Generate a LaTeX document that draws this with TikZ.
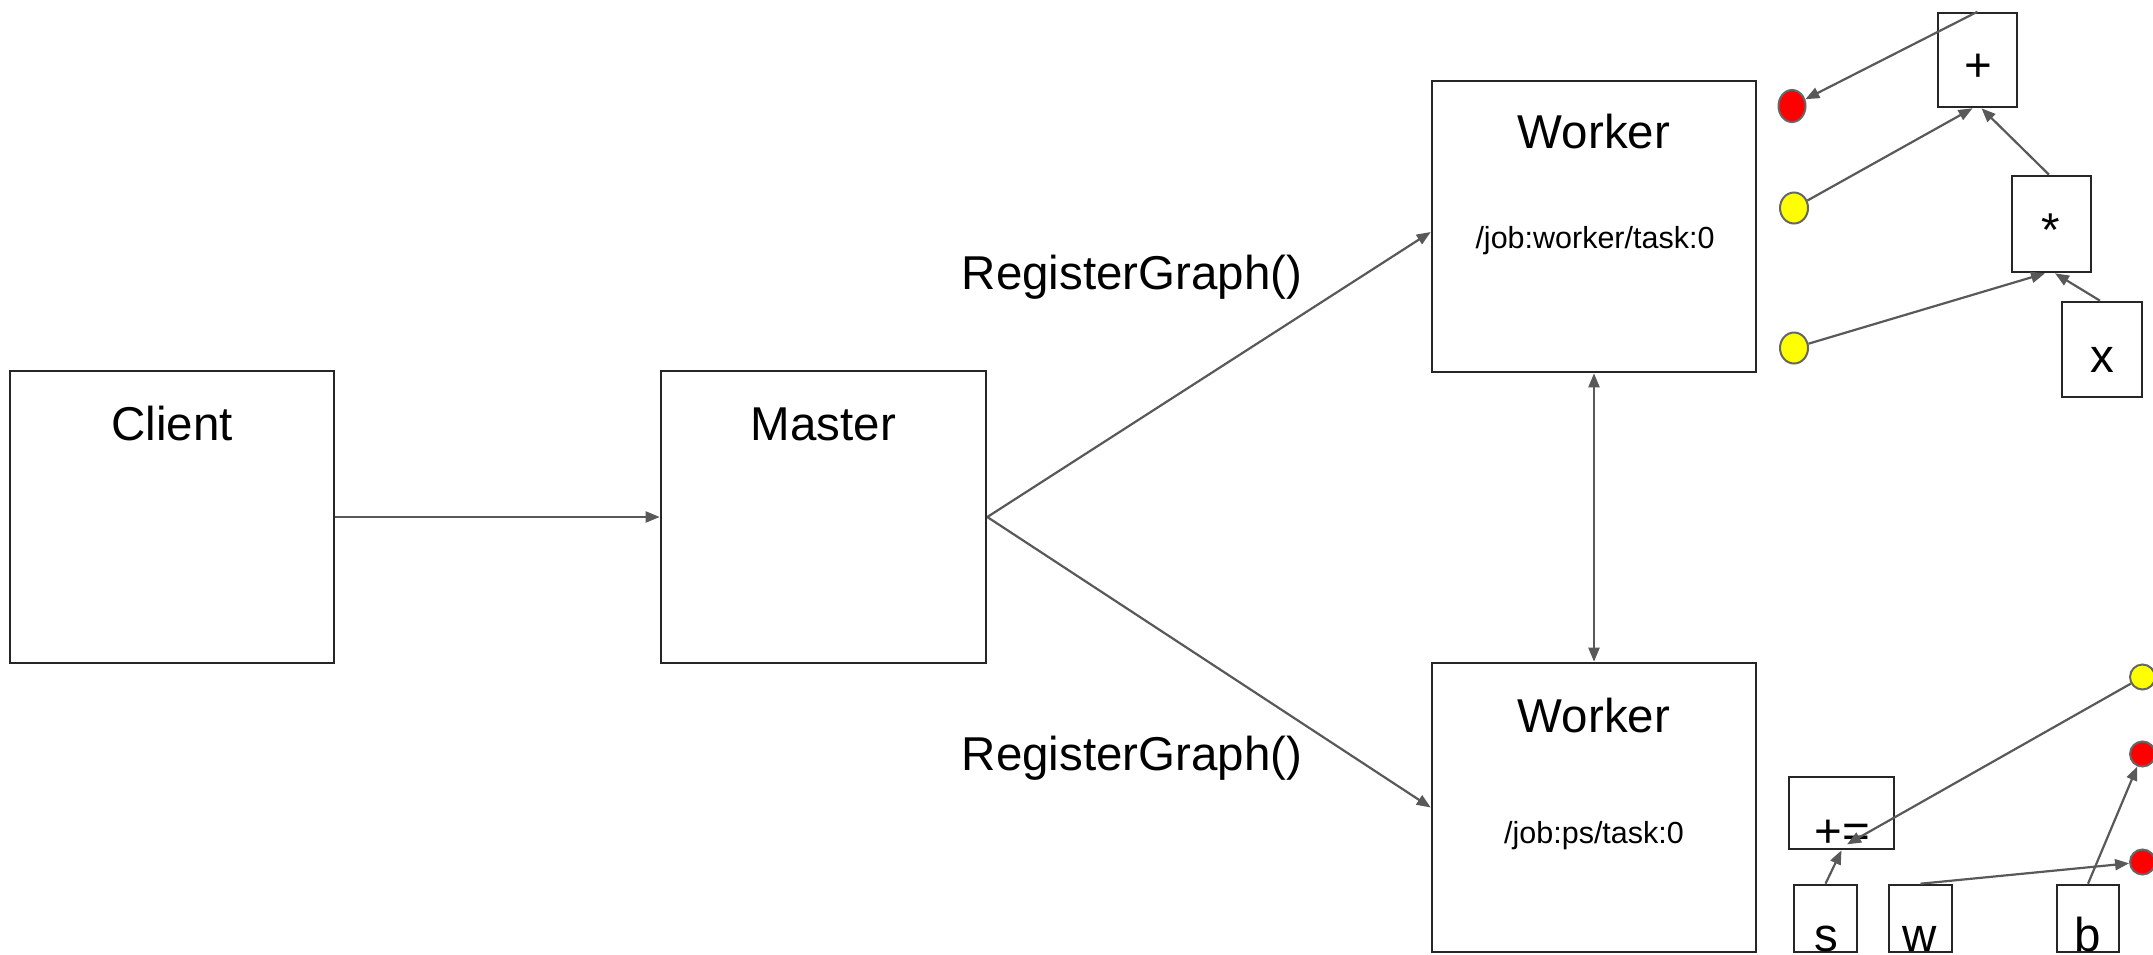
\documentclass[tikz,border=0pt]{standalone}
\usepackage{fontspec}
\setmainfont{Liberation Sans}
\usetikzlibrary{arrows.meta,shapes.geometric}
\definecolor{linegray}{HTML}{595959}
\definecolor{boxdark}{HTML}{262626}
\definecolor{circgray}{HTML}{666666}
\definecolor{dotred}{HTML}{FF0000}
\definecolor{dotyellow}{HTML}{FFFF00}
\begin{document}
\begin{tikzpicture}[x=1pt,y=-1pt,
  box/.style={draw=boxdark, line width=2.6pt, inner sep=0pt, fill=white, rectangle},
  conn/.style={draw=linegray, line width=2.2pt, -{Triangle[length=14pt,width=11pt]}},
  biconn/.style={draw=linegray, line width=2.2pt, {Triangle[length=14pt,width=11pt]}-{Triangle[length=14pt,width=11pt]}},
  dotnode/.style={ellipse, draw=circgray, line width=2pt, inner sep=0pt},
  bigtext/.style={font=\fontsize{47.5}{57}\selectfont, anchor=base, inner sep=0pt},
  smalltext/.style={font=\fontsize{30.5}{36}\selectfont, anchor=base, inner sep=0pt},
]
\useasboundingbox (0,0) rectangle (2153,954);
\clip (0,0) rectangle (2153,954);

% main boxes
\node[box, minimum width=324pt, minimum height=292pt] (client) at (172,517) {};
\node[box, minimum width=325pt, minimum height=292pt] (master) at (823.5,517) {};
\node[box, minimum width=324pt, minimum height=291pt] (worker1) at (1594,226.5) {};
\node[box, minimum width=324pt, minimum height=289pt] (worker2) at (1594,807.5) {};

% graph boxes
\node[box, minimum width=79pt, minimum height=94pt] (plus) at (1977.5,60) {};
\node[box, minimum width=79pt, minimum height=96pt] (star) at (2051.5,224) {};
\node[box, minimum width=80pt, minimum height=95pt] (xbox) at (2102,349.5) {};
\node[box, minimum width=105pt, minimum height=72pt] (pluseq) at (1841.5,813) {};
\node[box, minimum width=63pt, minimum height=67pt] (sbox) at (1825.5,918.5) {};
\node[box, minimum width=63pt, minimum height=67pt] (wbox) at (1920.5,918.5) {};
\node[box, minimum width=62pt, minimum height=67pt] (bbox) at (2088,918.5) {};

% dots
\node[dotnode, fill=dotred, minimum width=27pt, minimum height=32pt] (r1) at (1792,106) {};
\node[dotnode, fill=dotyellow, minimum width=28pt, minimum height=31pt] (y1) at (1794,208) {};
\node[dotnode, fill=dotyellow, minimum width=28pt, minimum height=31pt] (y2) at (1794,348) {};
\node[dotnode, fill=dotyellow, minimum width=25pt, minimum height=25pt] (y3) at (2142.5,677) {};
\node[dotnode, fill=dotred, minimum width=25pt, minimum height=25pt] (r2) at (2142.5,754) {};
\node[dotnode, fill=dotred, minimum width=25pt, minimum height=25pt] (r3) at (2142.5,862) {};

% texts
\node[bigtext] (tclient) at (172,440) {Client};
\node[bigtext] (tmaster) at (823.5,440) {Master};
\node[bigtext] (tw1) at (1594,148) {Worker};
\node[smalltext] (tw1job) at (1595,248) {/job:worker/task:0};
\node[bigtext] (tw2) at (1594,732) {Worker};
\node[smalltext] (tw2job) at (1594,843) {/job:ps/task:0};
\node[bigtext] (treg1) at (1132,289) {RegisterGraph()};
\node[bigtext] (treg2) at (1132,770) {RegisterGraph()};
\node[bigtext] (tplus) at (1978,81) {+};
\node[bigtext] (tstar) at (2051,246) {*};
\node[bigtext] (tx) at (2102,372) {x};
\node[bigtext] (tpluseq) at (1842,847) {+=};
\node[bigtext] (ts) at (1826,951) {s};
\node[bigtext] (tw) at (1920,951) {w};
\node[bigtext] (tb) at (2088,951) {b};

% connectors
\draw[conn] (client.east) -- (master.west);
\draw[conn] (master.east) -- ([yshift=-5.5pt]worker1.west);
\draw[conn] (master.east) -- (worker2.west);
\draw[biconn] (worker1.south) -- (worker2.north);

\draw[conn] (plus.north) -- (r1);
\draw[conn] (y1) -- ([xshift=-5pt]plus.south);
\draw[conn] ([xshift=-2.5pt]star.north) -- ([xshift=4pt]plus.south);
\draw[conn] (y2) -- ([xshift=-6.5pt]star.south);
\draw[conn] ([xshift=-2pt]xbox.north) -- ([xshift=3.5pt]star.south);

\draw[conn] (y3) -- ([xshift=5.5pt,yshift=6pt]pluseq.south);
\draw[conn] (sbox.north) -- (pluseq.south);
\draw[conn] (wbox.north) -- (r3);
\draw[conn] (bbox.north) -- (r2);
\end{tikzpicture}
\end{document}
